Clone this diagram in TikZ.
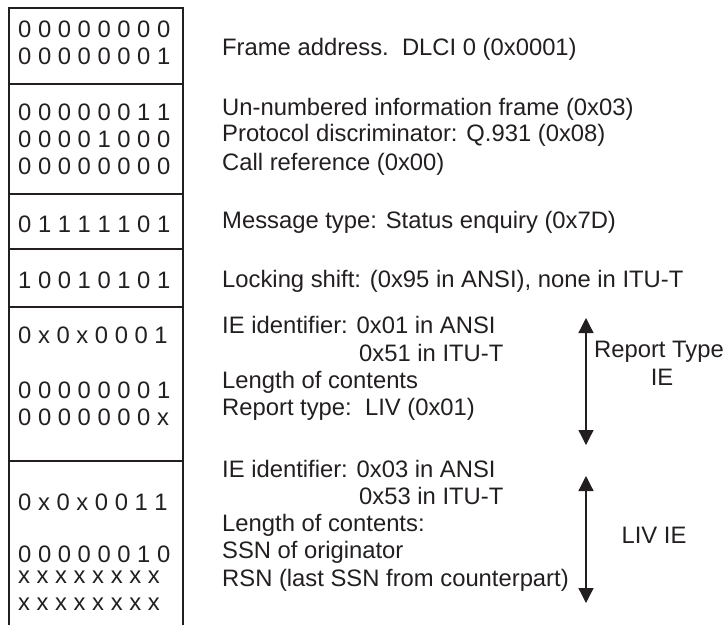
\documentclass[tikz,border=0pt]{standalone}
\usepackage{fontspec}
\setmainfont{Liberation Sans}
\usetikzlibrary{arrows.meta}
\definecolor{ink}{RGB}{35,31,32}
\begin{document}
\begin{tikzpicture}[x=1pt,y=-1pt,
  txt/.style={anchor=base west,inner sep=0pt,text=ink,font=\fontsize{23.8}{27}\selectfont},
  lbl/.style={anchor=base,inner sep=0pt,text=ink,font=\fontsize{23.8}{28}\selectfont},
  boxline/.style={draw=ink,line width=1.3pt},
  span/.style={draw=ink,line width=1.3pt,{Triangle[width=15pt,length=15pt]}-{Triangle[width=15pt,length=15pt]}}]
\useasboundingbox (0,0) rectangle (723,625);
% column frame
\coordinate (tl) at (9,8);   \coordinate (tr) at (183,8);
\coordinate (bl) at (9,625); \coordinate (br) at (183,625);
\coordinate (s1l) at (9,84);  \coordinate (s1r) at (183,84);
\coordinate (s2l) at (9,194); \coordinate (s2r) at (183,194);
\coordinate (s3l) at (9,249); \coordinate (s3r) at (183,249);
\coordinate (s4l) at (9,307); \coordinate (s4r) at (183,307);
\coordinate (s5l) at (9,461); \coordinate (s5r) at (183,461);
\draw[boxline] (bl) -- (tl) -- (tr) -- (br);
\draw[boxline] (s1l) -- (s1r);
\draw[boxline] (s2l) -- (s2r);
\draw[boxline] (s3l) -- (s3r);
\draw[boxline] (s4l) -- (s4r);
\draw[boxline] (s5l) -- (s5r);
% bit rows
\node[txt] (b1) at (18,37) {0 0 0 0 0 0 0 0};
\node[txt] (b2) at (18,64) {0 0 0 0 0 0 0 1};
\node[txt] (b3) at (18,120) {0 0 0 0 0 0 1 1};
\node[txt] (b4) at (18,147) {0 0 0 0 1 0 0 0};
\node[txt] (b5) at (18,174) {0 0 0 0 0 0 0 0};
\node[txt] (b6) at (18,232) {0 1 1 1 1 1 0 1};
\node[txt] (b7) at (18,288) {1 0 0 1 0 1 0 1};
\node[txt] (b8) at (18,343) {0 x 0 x 0 0 0 1};
\node[txt] (b9) at (18,398) {0 0 0 0 0 0 0 1};
\node[txt] (b10) at (18,425) {0 0 0 0 0 0 0 x};
\node[txt] (b11) at (18,510) {0 x 0 x 0 0 1 1};
\node[txt] (b12) at (18,562) {0 0 0 0 0 0 1 0};
\node[txt] (b13) at (18,583) {x x x x x x x x};
\node[txt] (b14) at (18,610) {x x x x x x x x};
% descriptions
\node[txt] (d1) at (222,55) {Frame address.\ \ DLCI 0 (0x0001)};
\node[txt] (d2) at (222,115) {Un-numbered information frame (0x03)};
\node[txt] (d3) at (222,141) {Protocol discriminator: Q.931 (0x08)};
\node[txt] (d4) at (222,170) {Call reference (0x00)};
\node[txt] (d5) at (222,228) {Message type: Status enquiry (0x7D)};
\node[txt] (d6) at (222,287) {Locking shift: (0x95 in ANSI), none in ITU-T};
\node[txt] (d7) at (222,333) {IE identifier: 0x01 in ANSI};
\node[txt] (d8) at (359,361) {0x51 in ITU-T};
\node[txt] (d9) at (222,388) {Length of contents};
\node[txt] (d10) at (222,415) {Report type:\ \ LIV (0x01)};
\node[txt] (d11) at (222,477) {IE identifier: 0x03 in ANSI};
\node[txt] (d12) at (359,504) {0x53 in ITU-T};
\node[txt] (d13) at (222,531) {Length of contents:};
\node[txt] (d14) at (222,558) {SSN of originator};
\node[txt] (d15) at (222,586) {RSN (last SSN from counterpart)};
% spans
\coordinate (rtTop) at (586,318); \coordinate (rtBot) at (586,445);
\coordinate (livTop) at (586,476); \coordinate (livBot) at (586,603);
\draw[span] (rtTop) -- (rtBot);
\draw[span] (livTop) -- (livBot);
\node[lbl] (rtLabel) at (659,357) {Report Type};
\node[lbl] (rtLabelB) at (662,385) {IE};
\node[lbl] (livLabel) at (654,543) {LIV IE};
\end{tikzpicture}
\end{document}
